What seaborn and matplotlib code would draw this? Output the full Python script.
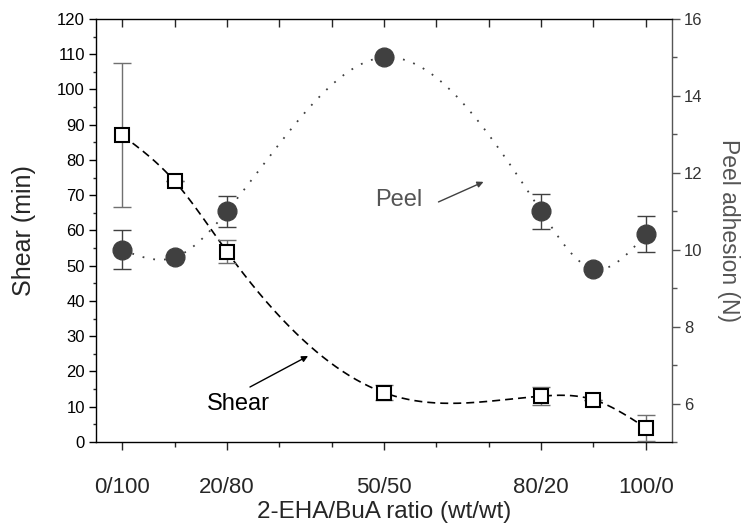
import numpy as np
import pandas as pd
import matplotlib
matplotlib.use("Agg")
import matplotlib.pyplot as plt
import seaborn as sns

# ---- data ----
ratio_x = [0, 10, 20, 50, 80, 90, 100]
tick_positions = [0, 20, 50, 80, 100]
tick_labels = ["0/100", "20/80", "50/50", "80/20", "100/0"]

shear = [87, 74, 54, 14, 13, 12, 4]
shear_err = [20.4, 0, 3.3, 2.1, 2.5, 0, 3.8]

peel = [10.0, 9.8, 11.0, 15.0, 11.0, 9.5, 10.4]
peel_err = [0.5, 0, 0.4, 0.05, 0.45, 0, 0.47]


def natural_spline(x, y, xs):
    x = np.asarray(x, float)
    y = np.asarray(y, float)
    n = len(x)
    h = np.diff(x)
    A = np.zeros((n, n))
    r = np.zeros(n)
    A[0, 0] = 1
    A[-1, -1] = 1
    for i in range(1, n - 1):
        A[i, i - 1] = h[i - 1]
        A[i, i] = 2 * (h[i - 1] + h[i])
        A[i, i + 1] = h[i]
        r[i] = 6 * ((y[i + 1] - y[i]) / h[i] - (y[i] - y[i - 1]) / h[i - 1])
    M = np.linalg.solve(A, r)
    idx = np.clip(np.searchsorted(x, xs) - 1, 0, n - 2)
    x0, x1 = x[idx], x[idx + 1]
    hh = x1 - x0
    return (M[idx] * (x1 - xs) ** 3 / (6 * hh) + M[idx + 1] * (xs - x0) ** 3 / (6 * hh)
            + (y[idx] / hh - M[idx] * hh / 6) * (x1 - xs)
            + (y[idx + 1] / hh - M[idx + 1] * hh / 6) * (xs - x0))


sns.set_style("ticks")
plt.rcParams["font.family"] = ["Liberation Sans", "DejaVu Sans"]

fig = plt.figure(figsize=(7.42, 5.26), dpi=100)
ax = fig.add_axes([0.1294, 0.1597, 0.7763, 0.8042])
ax2 = ax.twinx()

xs = np.linspace(0, 100, 400)
shear_curve = pd.DataFrame({"x": xs, "y": natural_spline(ratio_x, shear, xs)})
peel_curve = pd.DataFrame({"x": xs, "y": natural_spline(ratio_x, peel, xs)})

# shear (left axis)
sns.lineplot(data=shear_curve, x="x", y="y", ax=ax, color="black", lw=1.2,
             linestyle=(0, (4.8, 3.0)), zorder=2)
ax.errorbar(ratio_x, shear, yerr=shear_err, fmt="none", ecolor="#707070",
            elinewidth=1.0, capsize=6.5, capthick=1.0, zorder=3, clip_on=False)
ax.plot(ratio_x, shear, ls="none", marker="s", ms=9.5, mfc="white", mec="black",
        mew=1.5, zorder=4, clip_on=False)

# peel (right axis)
sns.lineplot(data=peel_curve, x="x", y="y", ax=ax2, color="#404040", lw=1.3,
             linestyle=(0, (1, 5)), zorder=2)
ax2.errorbar(ratio_x, peel, yerr=peel_err, fmt="none", ecolor="#404040",
             elinewidth=1.0, capsize=6.5, capthick=1.0, zorder=3)
ax2.plot(ratio_x, peel, ls="none", marker="o", ms=13.5, mfc="#404040",
         mec="#404040", zorder=4)

# axes limits / ticks
ax.set_xlim(-5, 105)
ax.set_ylim(0, 120)
ax2.set_ylim(5, 16)

ax.set_xticks(tick_positions)
ax.set_xticklabels(tick_labels, fontsize=16)
ax.set_xticks([10, 30, 40, 60, 70, 90], minor=True)
ax.set_yticks(np.arange(0, 121, 10))
ax.set_yticks(np.arange(5, 120, 10), minor=True)
ax.tick_params(axis="y", which="major", direction="out", length=5, width=1,
               labelsize=12, colors="black", pad=3)
ax.tick_params(axis="y", which="minor", direction="out", length=2.5, width=1)
ax.tick_params(axis="x", which="major", direction="out", length=5.5, width=1,
               pad=20)
ax.tick_params(axis="x", which="minor", direction="out", length=3.5, width=1)

ax2.set_yticks(np.arange(6, 17, 2))
ax2.set_yticks(np.arange(5, 16, 2), minor=True)
ax2.tick_params(axis="y", which="major", direction="out", length=5.5, width=1,
                labelsize=12, colors="#555555", labelcolor="#333333", pad=3)
ax2.tick_params(axis="y", which="minor", direction="out", length=3.5, width=1,
                colors="#555555")

sec = ax.secondary_xaxis("top")
sec.set_xticks(np.arange(0, 101, 10))
sec.tick_params(direction="in", length=5.5, width=1, labeltop=False)
sec.spines["top"].set_visible(False)

for s in ["left", "bottom", "top"]:
    ax.spines[s].set_color("black")
    ax.spines[s].set_linewidth(1.0)
ax.spines["right"].set_visible(False)
for s in ["left", "bottom", "top"]:
    ax2.spines[s].set_visible(False)
ax2.spines["right"].set_color("#555555")
ax2.spines["right"].set_linewidth(1.0)

ax.set_xlabel("2-EHA/BuA ratio (wt/wt)", fontsize=17.5, labelpad=2)
ax.set_ylabel("Shear (min)", fontsize=18, labelpad=15)
ax2.set_ylabel("Peel adhesion (N)", fontsize=16.5, color="#555555",
               rotation=270, labelpad=27)

# annotations
ax.annotate("", xy=(35.5, 24.4), xytext=(24.4, 15.6),
            arrowprops=dict(arrowstyle="-|>", color="black", lw=1.0,
                            mutation_scale=9, shrinkA=0, shrinkB=0))
ax.text(22.2, 10.8, "Shear", fontsize=17, ha="center", va="center", color="black")
ax.annotate("", xy=(69.0, 73.8), xytext=(60.4, 68.1),
            arrowprops=dict(arrowstyle="-|>", color="#404040", lw=1.0,
                            mutation_scale=9, shrinkA=0, shrinkB=0))
ax.text(52.8, 68.7, "Peel", fontsize=17, ha="center", va="center", color="#555555")

ax.set_zorder(ax2.get_zorder() + 1)
ax.patch.set_visible(False)

fig.savefig("out.png", dpi=100)
